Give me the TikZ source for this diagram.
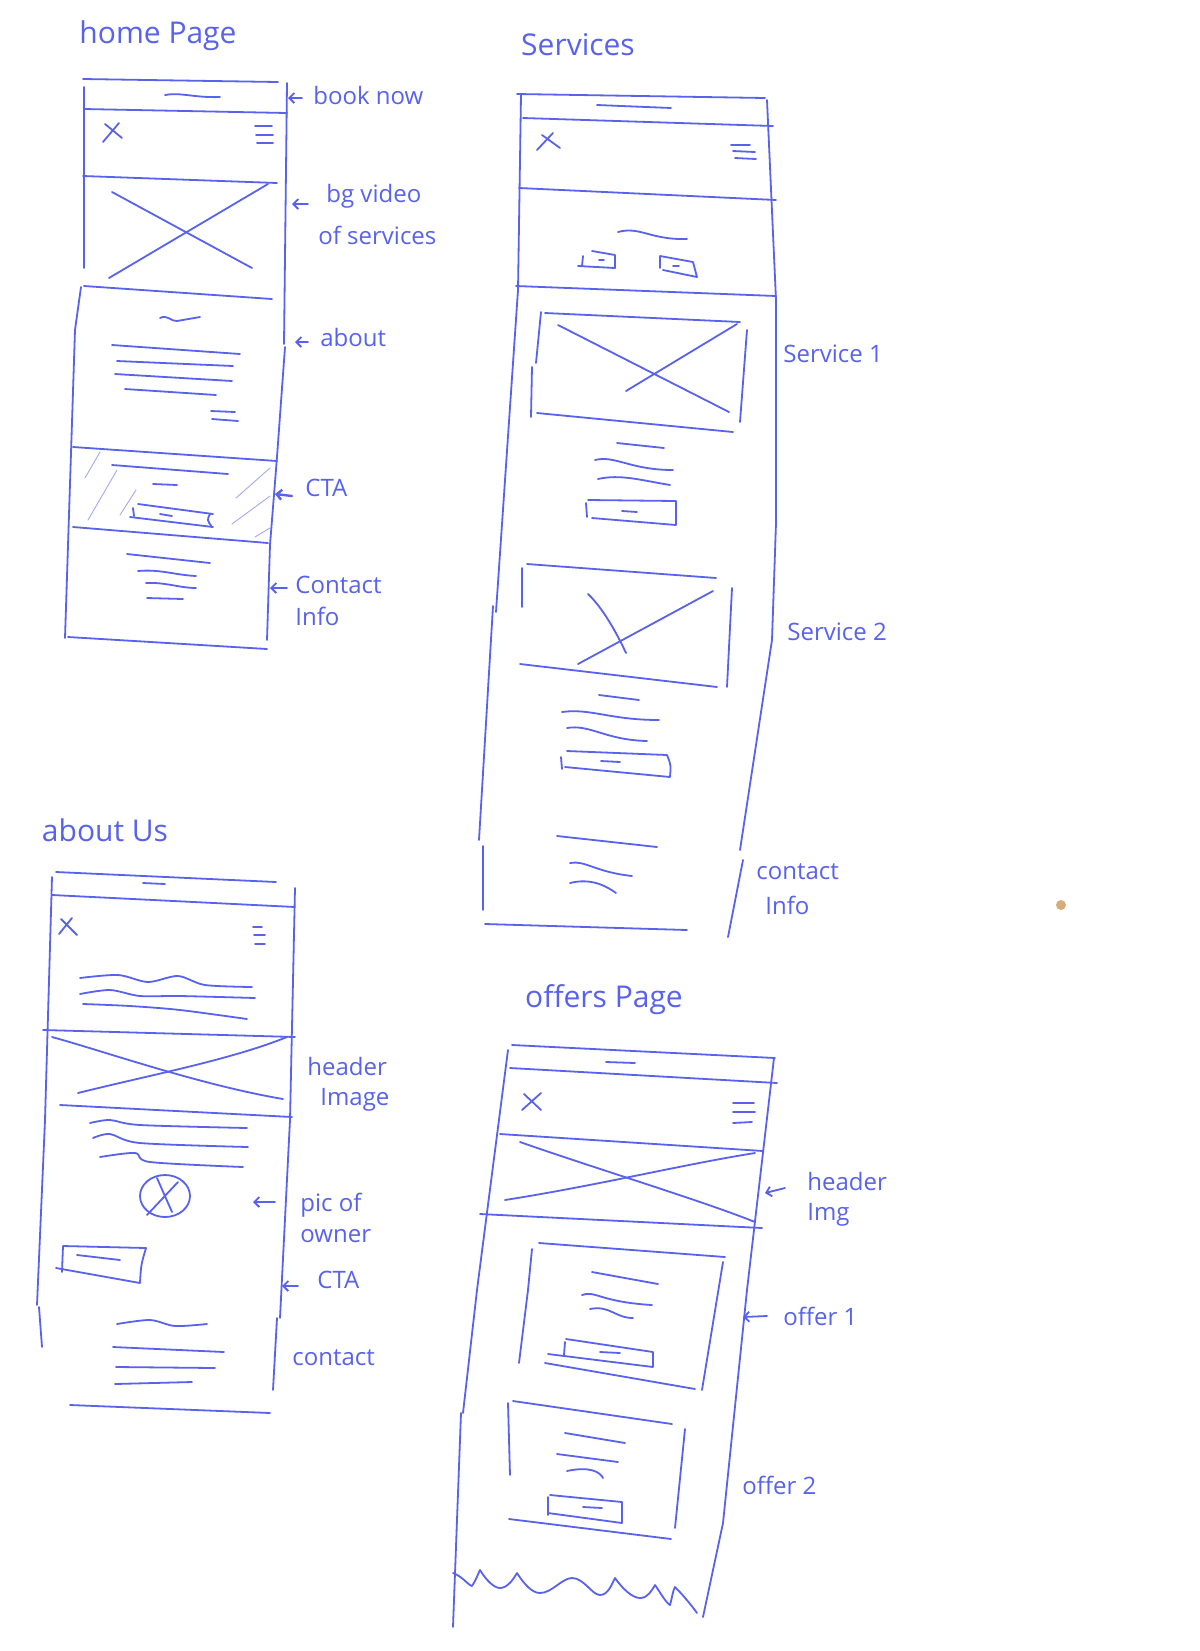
\documentclass[tikz,border=0pt]{standalone}
\usepackage{fontspec}
\setmainfont{Open Sans}
\usetikzlibrary{arrows.meta}
\definecolor{ink}{RGB}{88,98,236}
\definecolor{speck}{RGB}{214,172,120}
\begin{document}
\begin{tikzpicture}[x=0.5pt,y=-0.5pt,
  pen/.style={draw=ink,line width=0.9pt,line cap=round,line join=round},
  fine/.style={draw=ink!55,line width=0.45pt,line cap=round},
  lbl/.style={text=ink,font=\fontsize{12}{14}\selectfont,inner sep=0pt},
  ttl/.style={text=ink,font=\fontsize{15}{17}\selectfont,inner sep=0pt},
  tip/.style={pen,-{Straight Barb[length=2.5pt,width=5pt]}},
]
\fill[white] (0,0) rectangle (1200,1651);
\useasboundingbox (0,0) rectangle (1200,1651);

%================ HOME PAGE ================
\node[ttl] (hpT) at (158,36) {home Page};
\draw[pen] (83,79) -- (278,82);
\draw[pen] (84,87) -- (84,268);
\draw[pen] (81,287) -- (75,330) -- (65,638);
\draw[pen] (287,83) -- (284,344);
\draw[pen] (285,347) -- (277,457) -- (270,545) -- (267,640);
\draw[pen] (84,109) -- (287,113);
\draw[pen] (165,95) .. controls (180,92) and (195,98) .. (220,97);
\draw[pen] (105,124) -- (122,138) (103,142) -- (119,123);
\draw[pen] (255,126) -- (272,126) (256,135) -- (273,135) (257,143) -- (273,143);
\draw[pen] (83,176) -- (277,183);
\draw[pen] (112,192) -- (252,268);
\draw[pen] (109,278) -- (268,184);
\draw[pen] (84,286) -- (272,299);
\draw[pen] (160,318) .. controls (167,314) and (172,322) .. (177,321) -- (200,317);
\draw[pen] (112,345) -- (240,354);
\draw[pen] (117,361) -- (233,366);
\draw[pen] (115,374) -- (232,381);
\draw[pen] (125,389) -- (216,395);
\draw[pen] (211,411) -- (235,412);
\draw[pen] (212,419) -- (238,421);
% CTA section
\draw[pen] (73,447) -- (277,461);
\draw[fine] (85,478) -- (100,452) (88,520) -- (117,470) (120,515) -- (136,490);
\draw[fine] (236,498) -- (270,468) (232,524) -- (270,496) (255,537) -- (270,528);
\draw[pen] (112,465) -- (228,474);
\draw[pen] (153,484) -- (177,485);
\draw[pen] (138,504) -- (213,514);
\draw[pen] (130,517) -- (213,527);
\draw[pen] (210,514) .. controls (207,520) .. (212,527);
\draw[pen] (133,508) -- (134,516);
\draw[pen] (160,514) -- (172,516);
\draw[pen] (73,527) -- (268,543);
\draw[pen] (127,554) -- (210,563);
\draw[pen] (138,571) .. controls (160,569) and (175,575) .. (196,576);
\draw[pen] (146,583) .. controls (165,582) and (180,588) .. (196,588);
\draw[pen] (147,598) -- (183,599);
\draw[pen] (68,637) -- (267,649);
% labels
\coordinate (hpA1) at (288,98);
\draw[tip] (302,98) -- (hpA1);
\node[lbl,anchor=west] (hpL1) at (313,95) {book now};
\coordinate (hpA2) at (292,204);
\draw[tip] (308,204) -- (hpA2);
\node[lbl,anchor=west] (hpL2) at (326,196) {bg video};
\node[lbl,anchor=west] (hpL3) at (318,235) {of services};
\coordinate (hpA3) at (295,342);
\draw[tip] (308,342) -- (hpA3);
\node[lbl,anchor=west] (hpL4) at (320,337) {about};
\coordinate (hpA4) at (275,494);
\draw[tip,line width=1.2pt] (292,496) -- (hpA4);
\node[lbl,anchor=west] (hpL5) at (305,488) {CTA};
\coordinate (hpA5) at (270,588);
\draw[tip] (287,588) -- (hpA5);
\node[lbl,anchor=west] (hpL6) at (295,585) {Contact};
\node[lbl,anchor=west] (hpL7) at (295,616) {Info};

%================ SERVICES ================
\node[ttl] (svT) at (578,45) {Services};
\draw[pen] (517,94) -- (765,98);
\draw[pen] (521,95) -- (518,290) -- (496,612);
\draw[pen] (493,606) -- (479,840);
\draw[pen] (483,846) -- (483,910);
\draw[pen] (767,100) -- (776,300) -- (776,523) -- (772,640) -- (740,850);
\draw[pen] (743,860) -- (728,937);
\draw[pen] (523,118) -- (773,126);
\draw[pen] (597,105) -- (671,108);
\draw[pen] (542,135) -- (560,148) (537,150) -- (553,133);
\draw[pen] (731,145) -- (750,145) (733,151) -- (755,152) (735,158) -- (756,159);
\draw[pen] (519,188) -- (776,200);
\draw[pen] (618,232) .. controls (640,226) and (650,240) .. (687,239);
\draw[pen] (578,266) -- (615,268) -- (615,255) -- (592,251) (583,256) -- (582,266);
\draw[pen] (599,260) -- (604,260);
\draw[pen] (660,256) -- (693,262) -- (697,277) -- (663,270) (660,256) -- (660,268);
\draw[pen] (673,266) -- (679,266);
\draw[pen] (516,286) -- (776,296);
% service 1
\draw[pen] (545,313) -- (740,322);
\draw[pen] (541,312) -- (536,363);
\draw[pen] (532,367) -- (531,417);
\draw[pen] (537,413) -- (733,432);
\draw[pen] (747,330) -- (740,422);
\draw[pen] (558,325) -- (729,412);
\draw[pen] (626,391) -- (737,324);
\draw[pen] (617,443) -- (664,448);
\draw[pen] (595,460) .. controls (615,455) and (630,470) .. (673,470);
\draw[pen] (598,479) .. controls (620,474) and (640,480) .. (670,485);
\draw[pen] (588,500) -- (676,501) -- (676,525) (592,518) -- (676,525) (586,503) -- (587,517);
\draw[pen] (622,511) -- (637,512);
\node[lbl,anchor=west] (svL1) at (783,354) {Service 1};
% service 2
\draw[pen] (527,564) -- (716,578);
\draw[pen] (522,568) -- (522,607);
\draw[pen] (732,588) -- (727,687);
\draw[pen] (520,664) -- (717,687);
\draw[pen] (588,594) .. controls (605,610) and (620,640) .. (626,653);
\draw[pen] (578,664) -- (713,591);
\draw[pen] (599,695) -- (639,700);
\draw[pen] (562,712) .. controls (590,708) and (610,720) .. (659,720);
\draw[pen] (567,728) .. controls (590,724) and (605,740) .. (647,741);
\draw[pen] (567,751) -- (667,755) .. controls (671,765) .. (670,777) (565,767) -- (670,777) (561,757) -- (562,769);
\draw[pen] (601,761) -- (620,762);
\node[lbl,anchor=west] (svL2) at (787,632) {Service 2};
% contact
\draw[pen] (557,836) -- (657,847);
\draw[pen] (570,863) .. controls (585,860) and (595,872) .. (632,876);
\draw[pen] (570,883) .. controls (590,878) and (605,885) .. (616,893);
\draw[pen] (485,924) -- (687,930);
\node[lbl,anchor=west] (svL3) at (756,872) {contact};
\node[lbl,anchor=west] (svL4) at (765,905) {Info};

%================ ABOUT US ================
\node[ttl] (auT) at (105,830) {about Us};
\draw[pen] (56,872) -- (276,882);
\draw[pen] (143,883) -- (165,884);
\draw[pen] (52,877) -- (45,1120) -- (37,1305);
\draw[pen] (39,1307) -- (42,1347);
\draw[pen] (295,888) -- (290,1120) -- (280,1318);
\draw[pen] (277,1318) -- (273,1390);
\draw[pen] (52,895) -- (295,907);
\draw[pen] (61,919) -- (77,935) (59,934) -- (72,918);
\draw[pen] (253,927) -- (262,927) (254,935) -- (265,935) (255,944) -- (265,944);
\draw[pen] plot[smooth] coordinates {(80,978) (118,975) (148,982) (178,976) (205,985) (252,987)};
\draw[pen] plot[smooth] coordinates {(80,994) (110,990) (140,996) (180,996) (255,998)};
\draw[pen] plot[smooth] coordinates {(83,1004) (130,1006) (180,1010) (247,1019)};
\draw[pen] (43,1030) -- (295,1037);
\draw[pen] (52,1037) .. controls (100,1050) and (200,1085) .. (283,1099);
\draw[pen] (78,1093) .. controls (150,1075) and (230,1060) .. (287,1037);
\draw[pen] (60,1105) -- (292,1117);
\draw[pen] plot[smooth] coordinates {(90,1123) (110,1120) (140,1125) (247,1128)};
\draw[pen] plot[smooth] coordinates {(93,1138) (110,1134) (140,1143) (248,1147)};
\draw[pen] plot[smooth] coordinates {(100,1157) (135,1153) (150,1162) (243,1167)};
\draw[pen] (165,1196) ellipse [x radius=25, y radius=21];
\draw[pen] (157,1178) -- (172,1212) (178,1182) -- (147,1215);
\draw[pen] (63,1246) -- (146,1248) .. controls (141,1265) .. (140,1283) (56,1268) -- (140,1283) (63,1246) -- (62,1272);
\draw[pen] (77,1255) -- (120,1260);
\draw[pen] plot[smooth] coordinates {(117,1324) (150,1320) (175,1326) (207,1324)};
\draw[pen] (113,1347) -- (224,1352);
\draw[pen] (116,1367) -- (215,1368);
\draw[pen] (115,1384) -- (192,1382);
\draw[pen] (70,1405) -- (270,1413);
\node[lbl,anchor=west] (auL1) at (307,1066) {header};
\node[lbl,anchor=west] (auL2) at (320,1100) {Image};
\coordinate (auA1) at (253,1202);
\draw[tip] (275,1202) -- (auA1);
\node[lbl,anchor=west] (auL3) at (300,1205) {pic of};
\node[lbl,anchor=west] (auL4) at (300,1236) {owner};
\coordinate (auA2) at (282,1286);
\draw[tip] (298,1286) -- (auA2);
\node[lbl,anchor=west] (auL5) at (317,1280) {CTA};
\node[lbl,anchor=west] (auL6) at (292,1358) {contact};

%================ OFFERS PAGE ================
\node[ttl] (ofT) at (604,1000) {offers Page};
\draw[pen] (512,1045) -- (775,1058);
\draw[pen] (508,1050) -- (477,1290) -- (463,1413);
\draw[pen] (461,1413) -- (453,1627);
\draw[pen] (774,1058) -- (747,1290) -- (723,1523) -- (703,1617);
\draw[pen] (510,1068) -- (777,1083);
\draw[pen] (606,1062) -- (635,1063);
\draw[pen] (524,1094) -- (541,1110) (522,1110) -- (541,1093);
\draw[pen] (733,1103) -- (754,1103) (733,1112) -- (755,1112) (733,1123) -- (752,1122);
\draw[pen] (500,1134) -- (763,1151);
\draw[pen] (520,1142) .. controls (600,1170) and (700,1200) .. (755,1222);
\draw[pen] (505,1200) .. controls (600,1185) and (680,1165) .. (755,1153);
\draw[pen] (480,1214) -- (762,1228);
\coordinate (ofA1) at (765,1193);
\draw[tip] (785,1188) -- (ofA1);
\node[lbl,anchor=west] (ofL1) at (807,1181) {header};
\node[lbl,anchor=west] (ofL2) at (807,1215) {Img};
% offer 1
\draw[pen] (539,1243) -- (725,1257);
\draw[pen] (532,1249) -- (528,1290) -- (519,1363);
\draw[pen] (723,1262) -- (702,1390);
\draw[pen] (545,1363) -- (695,1389);
\draw[pen] (592,1272) -- (658,1284);
\draw[pen] (582,1295) .. controls (595,1290) and (600,1302) .. (652,1305);
\draw[pen] (590,1309) .. controls (610,1305) and (615,1318) .. (633,1318);
\draw[pen] (566,1339) -- (653,1352) -- (653,1367) (548,1354) -- (653,1367) (565,1342) -- (564,1355);
\draw[pen] (600,1352) -- (620,1353);
\coordinate (ofA2) at (743,1317);
\draw[tip] (767,1316) -- (ofA2);
\node[lbl,anchor=west] (ofL3) at (783,1316) {offer 1};
% offer 2
\draw[pen] (513,1401) -- (672,1424);
\draw[pen] (508,1403) -- (510,1475);
\draw[pen] (685,1429) -- (675,1528);
\draw[pen] (509,1519) -- (671,1539);
\draw[pen] (565,1433) -- (625,1443);
\draw[pen] (557,1454) -- (618,1462);
\draw[pen] (567,1471) .. controls (590,1466) and (600,1472) .. (603,1478);
\draw[pen] (550,1495) -- (622,1502) -- (622,1523) (548,1513) -- (622,1523) (548,1497) -- (548,1515);
\draw[pen] (583,1507) -- (602,1508);
\node[lbl,anchor=west] (ofL4) at (742,1485) {offer 2};
\draw[pen] (453,1573) .. controls (462,1576) and (468,1585) .. (472,1586)
  .. controls (476,1580) and (478,1574) .. (480,1570)
  .. controls (486,1580) and (494,1588) .. (500,1588)
  .. controls (508,1588) and (514,1578) .. (517,1573)
  .. controls (524,1584) and (532,1593) .. (540,1593)
  .. controls (552,1593) and (562,1578) .. (572,1578)
  .. controls (584,1578) and (592,1595) .. (600,1595)
  .. controls (608,1595) and (612,1584) .. (615,1578)
  .. controls (622,1588) and (632,1598) .. (640,1598)
  .. controls (648,1598) and (652,1590) .. (655,1585)
  .. controls (660,1592) and (666,1603) .. (670,1605)
  .. controls (672,1598) and (673,1590) .. (675,1587)
  .. controls (684,1596) and (692,1606) .. (697,1613);

% specks
\fill[speck] (1061,905) circle (5);
\end{tikzpicture}
\end{document}
